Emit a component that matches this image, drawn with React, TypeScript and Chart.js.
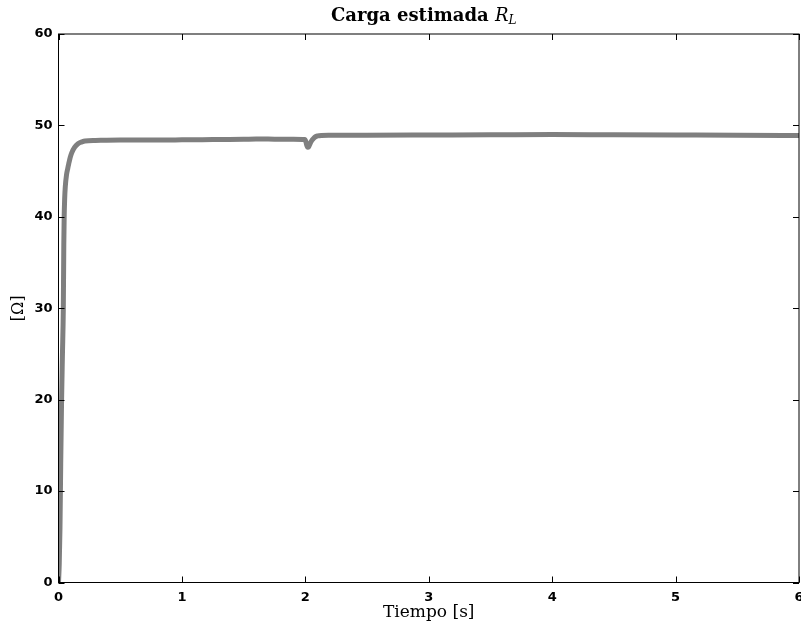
import React, { useEffect, useRef } from "react";
import { Chart, registerables } from "chart.js";

Chart.register(...registerables);

const timeS: number[] = [
  0, 0.006, 0.012, 0.018, 0.025, 0.032, 0.039, 0.043, 0.046, 0.05, 0.055, 0.065,
  0.075, 0.083, 0.095, 0.107, 0.13, 0.158, 0.19, 0.215, 0.3, 0.5, 0.75, 1.0,
  1.25, 1.5, 1.6, 1.75, 1.9, 1.995, 2.005, 2.012, 2.02, 2.026, 2.035, 2.05,
  2.065, 2.08, 2.1, 2.13, 2.2, 2.5, 3.0, 3.5, 4.0, 4.5, 5.0, 5.5, 6.0,
];
const loadOhm: number[] = [
  0, 2, 6, 13, 20, 25, 30, 37, 40, 42, 43.3, 44.6,
  45.3, 45.8, 46.5, 47.0, 47.6, 48.0, 48.2, 48.3, 48.35, 48.4, 48.4, 48.42,
  48.45, 48.48, 48.52, 48.5, 48.48, 48.45, 48.2, 47.8, 47.6, 47.65, 47.9, 48.3,
  48.55, 48.75, 48.85, 48.9, 48.92, 48.93, 48.95, 48.97, 49.0, 48.97, 48.95, 48.93, 48.9,
];
const xTicks: number[] = [0, 1, 2, 3, 4, 5, 6];
const yTicks: number[] = [0, 10, 20, 30, 40, 50, 60];

const chartTitle = "Carga estimada ";
const chartTitleVar = "R";
const chartTitleSub = "L";
const xTitle = "Tiempo [s]";
const yTitle = "[\u03A9]";

const framePlugin = {
  id: "frame",
  afterDraw(chart: any) {
    const { ctx, chartArea } = chart;
    const { left, right, top, bottom } = chartArea;
    const xs = chart.scales.x;
    const ys = chart.scales.y;
    ctx.save();
    ctx.strokeStyle = "#000";
    ctx.lineWidth = 1;
    ctx.strokeRect(left, top, right - left, bottom - top);
    const tl = 6;
    ctx.beginPath();
    xTicks.forEach((v) => {
      const px = Math.round(xs.getPixelForValue(v)) + 0.5;
      ctx.moveTo(px, bottom);
      ctx.lineTo(px, bottom - tl);
      ctx.moveTo(px, top);
      ctx.lineTo(px, top + tl);
    });
    yTicks.forEach((v) => {
      const py = Math.round(ys.getPixelForValue(v)) + 0.5;
      ctx.moveTo(left, py);
      ctx.lineTo(left + tl, py);
      ctx.moveTo(right, py);
      ctx.lineTo(right - tl, py);
    });
    ctx.stroke();

    // title
    const boldFont = "bold 18px 'DejaVu Serif'";
    const italFont = "italic 18px 'DejaVu Serif'";
    const subFont = "italic 12px 'DejaVu Serif'";
    ctx.fillStyle = "#000";
    ctx.textBaseline = "alphabetic";
    ctx.textAlign = "left";
    ctx.font = boldFont;
    const w1 = ctx.measureText(chartTitle).width;
    ctx.font = italFont;
    const w2 = ctx.measureText(chartTitleVar).width;
    ctx.font = subFont;
    const w3 = ctx.measureText(chartTitleSub).width;
    const total = w1 + w2 + w3;
    const cx = (left + right) / 2 - 5;
    const x0 = cx - total / 2;
    const base = 21;
    ctx.font = boldFont;
    ctx.fillText(chartTitle, x0, base);
    ctx.font = italFont;
    ctx.fillText(chartTitleVar, x0 + w1, base);
    ctx.font = subFont;
    ctx.fillText(chartTitleSub, x0 + w1 + w2, base + 3);
    ctx.restore();
  },
};

export default function App() {
  const ref = useRef<HTMLCanvasElement>(null);
  useEffect(() => {
    document.body.style.margin = "0";
    const canvas = ref.current;
    if (!canvas) return;
    const data = timeS.map((t, i) => ({ x: t, y: loadOhm[i] }));
    const chart = new Chart(canvas, {
      type: "line",
      data: {
        datasets: [
          {
            data,
            borderColor: "#7f7f7f",
            borderWidth: 5,
            pointRadius: 0,
            tension: 0.3,
            cubicInterpolationMode: "monotone",
            fill: false,
          },
        ],
      },
      options: {
        responsive: false,
        animation: false,
        maintainAspectRatio: false,
        layout: { padding: { top: 34, right: 2, left: 0, bottom: 0 } },
        plugins: {
          legend: { display: false },
          tooltip: { enabled: false },
          title: { display: false },
        },
        scales: {
          x: {
            type: "linear",
            min: 0,
            max: 6,
            afterBuildTicks: (s: any) => {
              s.ticks = xTicks.map((v) => ({ value: v }));
            },
            afterFit: (s: any) => {
              s.height = 47.5;
              s.paddingLeft = 0;
              s.paddingRight = 0;
            },
            grid: { display: false, drawTicks: false },
            border: { display: false },
            ticks: {
              maxRotation: 0,
              padding: 7,
              color: "#000",
              font: { family: "'DejaVu Sans'", weight: "bold", size: 13 },
              callback: (v: any) => String(v),
            },
            title: {
              display: true,
              text: xTitle,
              color: "#000",
              font: { family: "'DejaVu Serif'", size: 17 },
              padding: { top: 0, bottom: 7 },
            },
          },
          y: {
            type: "linear",
            min: 0,
            max: 60,
            afterBuildTicks: (s: any) => {
              s.ticks = yTicks.map((v) => ({ value: v }));
            },
            afterFit: (s: any) => {
              s.width = 58.5;
              s.paddingTop = 0;
              s.paddingBottom = 0;
            },
            grid: { display: false, drawTicks: false },
            border: { display: false },
            ticks: {
              padding: 6,
              color: "#000",
              font: { family: "'DejaVu Sans'", weight: "bold", size: 13 },
              callback: (v: any) => String(v),
            },
            title: {
              display: true,
              text: yTitle,
              color: "#000",
              font: { family: "'DejaVu Serif'", size: 16 },
              padding: { top: 9, bottom: 0 },
            },
          },
        },
      },
      plugins: [framePlugin],
    });
    return () => chart.destroy();
  }, []);
  return (
    <div style={{ position: "absolute", left: 0, top: 0, width: 801, height: 630, background: "#fff" }}>
      <canvas ref={ref} width={801} height={630} style={{ width: 801, height: 630, display: "block" }} />
    </div>
  );
}
